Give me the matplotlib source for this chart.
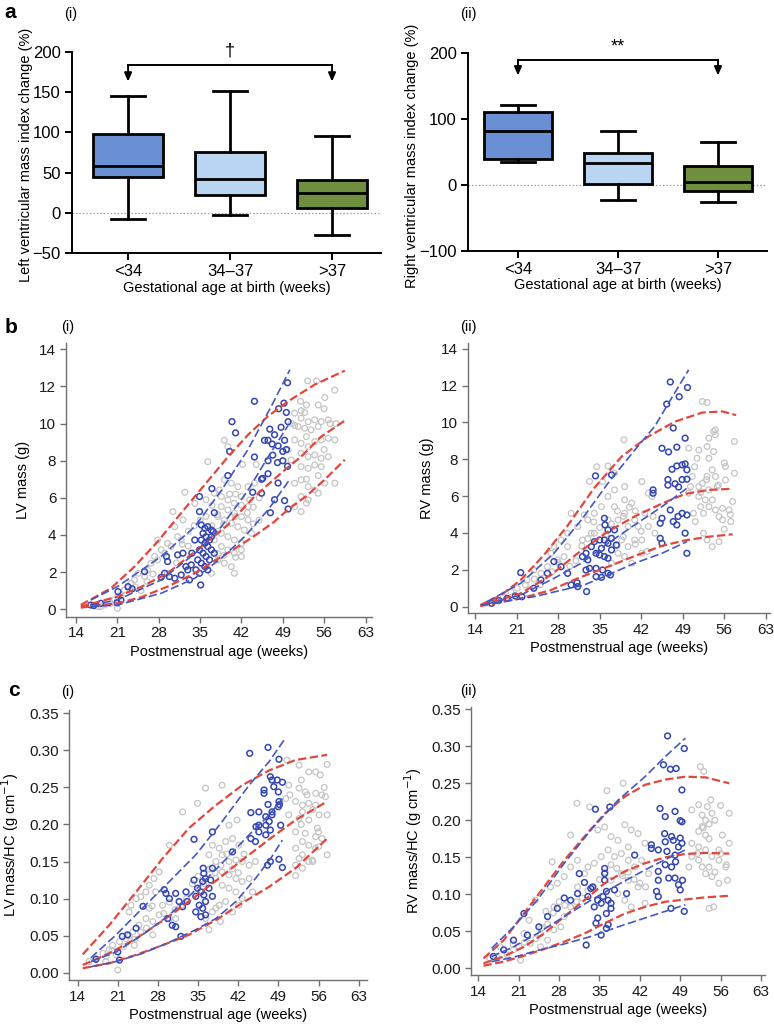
import matplotlib
matplotlib.use("Agg")
import matplotlib.pyplot as plt

plt.rcParams['font.family'] = ['Liberation Sans', 'DejaVu Sans']
plt.rcParams['lines.scale_dashes'] = False

# ---------------- Panel a data ----------------
groups = ['<34', '34\u201337', '>37']
box_colors = ['#6a8fd2', '#b9d5f1', '#6f8f3f']
lv_whislo = [-7, -2, -27]
lv_q1 = [44, 22, 6]
lv_med = [58, 42, 25]
lv_q3 = [98, 75, 41]
lv_whishi = [145, 151, 95]
rv_whislo = [35, -23, -26]
rv_q1 = [39, 1, -10]
rv_med = [82, 33, 5]
rv_q3 = [111, 48, 28]
rv_whishi = [121, 82, 65]

# ---------------- Panel b(i) LV mass ----------------
b1_gray_x = [52.1, 52.7, 53.2, 54.7, 56.1, 57.8, 51.0, 52.1, 53.3, 54.4, 55.5, 56.7, 51.6, 52.7, 53.8, 55.0,
             51.0, 52.1, 53.3, 54.4, 55.5, 56.7, 57.8, 52.1, 53.3, 54.4, 55.5, 56.7, 52.1, 53.3, 54.4, 55.5,
             51.0, 52.1, 53.3, 54.4, 56.1, 57.8, 52.1, 53.3, 55.0, 52.1, 53.0, 51.0, 50.4, 49.9,
             36.3, 39.1, 39.7, 42.2, 44.5, 32.4, 30.4, 34.1,
             37.4, 38.6, 39.7, 40.8, 42.0, 43.1, 38.6, 39.7, 40.8, 42.0, 43.1, 38.0, 39.1, 40.3, 41.4, 42.5,
             43.7, 38.6, 39.7, 40.8, 42.0, 37.4, 38.6, 39.7, 40.8, 42.0, 38.0, 39.1, 40.3, 36.9, 40.8, 43.4,
             44.2, 43.1, 41.4, 40.3, 39.1, 38.3,
             31.2, 31.8, 29.5, 30.1, 28.4, 29.0, 27.3, 27.8, 26.7, 26.1, 25.6, 24.5, 23.9, 23.3, 22.8, 22.2,
             21.6, 21.1, 20.5, 19.9, 19.4, 18.8, 18.2, 17.7, 27.8, 30.7, 32.1, 29.5, 21.0,
             37, 38, 39, 41, 42, 43, 44, 45, 36, 35, 34, 33, 33, 38, 39, 41, 42, 44, 45, 40, 41, 37, 36, 38,
             26, 24, 25, 27, 31, 32, 53, 55, 56, 57, 58, 53, 51, 55, 53, 52, 50.5, 56]
b1_gray_y = [10.7, 10.6, 12.3, 12.3, 11.4, 11.8, 10.56, 10.29, 10.1, 10.2, 10.1, 10.2, 9.84, 9.75, 9.66, 9.84,
             9.12, 8.94, 8.76, 9.03, 9.12, 9.21, 9.12, 8.4, 8.22, 8.31, 8.13, 8.22, 7.68, 7.59, 7.77, 7.68,
             6.79, 6.97, 6.6, 6.43, 6.79, 6.79, 6.07, 5.89, 6.25, 5.26, 5.71, 5.53, 8.04, 8.58,
             7.95, 9.1, 8.76, 7.8, 7.8, 6.3, 5.26, 5.7,
             6.25, 6.07, 5.89, 5.71, 6.07, 5.53, 5.53, 5.35, 5.17, 4.99, 4.81, 4.99, 4.81, 4.63, 4.45, 4.27,
             4.09, 4.09, 3.91, 3.73, 3.55, 3.73, 3.38, 3.2, 3.02, 2.84, 2.66, 2.48, 2.3, 1.94, 1.94, 5.89,
             6.79, 6.6, 6.6, 6.79, 6.97, 6.43,
             3.91, 3.73, 3.55, 3.38, 3.2, 3.02, 2.84, 2.66, 2.48, 2.12, 1.76, 1.94, 1.58, 1.4, 1.13, 1.04,
             0.77, 0.68, 0.5, 0.32, 0.41, 0.23, 0.14, 0.14, 3.73, 4.45, 4.81, 1.94, 0.05,
             4.5, 4.2, 4.6, 5.0, 5.6, 5.2, 5.5, 6.0, 5.0, 4.8, 4.5, 4.2, 3.4, 3.0, 2.9, 2.8, 3.2, 4.6, 4.8, 6.2, 6.2, 5.6, 5.9, 5.1,
             1.5, 1.2, 1.0, 1.9, 2.5, 3.5, 7.0, 7.2, 8.6, 10.0, 10.0, 9.3, 9.9, 11.0, 11.0, 11.2, 10.0, 10.8]
b1_blue_x = [49.8, 44.2, 40.4, 41.0, 48.3, 49.2, 49.6, 49.9, 46.8, 47.6, 46.5, 45.9, 48.7, 47.2, 48.2, 49.3,
             49.6, 49.0, 44.2, 46.5, 47.3, 48.1, 49.0, 49.8, 45.4, 45.6, 46.5, 48.2, 47.6, 49.3, 46.9, 49.9,
             43.9, 45.4, 40.0, 39.7, 37.0, 34.9, 37.4, 34.9,
             35.2, 35.8, 36.3, 36.9, 35.5, 36.0, 36.6, 37.2, 35.2, 35.8, 36.3, 36.9, 34.9, 35.5, 36.0, 36.6,
             34.6, 35.2, 35.8, 36.3, 34.3, 34.9, 37.4, 36.9, 34.1, 33.6,
             29.3, 29.5, 31.2, 32.1, 32.6, 32.9, 31.8, 30.7, 29.8, 29.0, 28.4, 33.5, 33.2, 35.1,
             25.6, 22.8, 21.1, 18.2, 16.5, 21.6, 17.0, 21.0, 23.5]
b1_blue_y = [12.2, 11.2, 10.1, 9.5, 10.8, 11.1, 10.6, 10.1, 9.7, 9.4, 9.1, 9.1, 9.8, 8.9, 8.8, 9.1,
             8.6, 8.5, 8.2, 8.0, 8.3, 7.9, 8.0, 7.7, 7.0, 7.05, 7.3, 6.8, 5.9, 5.85, 5.2, 5.4,
             6.3, 6.25, 8.5, 7.2, 6.5, 6.07, 5.2, 5.26,
             4.54, 4.36, 4.45, 4.27, 4.09, 3.91, 3.73, 4.18, 3.73, 3.55, 3.38, 3.2, 3.2, 3.02, 2.84, 2.66,
             2.66, 2.48, 2.3, 2.12, 2.12, 1.94, 3.02, 3.91, 3.73, 3.02,
             2.84, 2.57, 2.93, 3.02, 2.3, 2.12, 1.85, 1.67, 1.76, 1.94, 1.72, 2.39, 1.58, 1.31,
             2.03, 1.22, 0.95, 0.32, 0.23, 0.5, 0.2, 0.35, 1.1]
b1_rhi_x = [14.8, 19.9, 23.9, 27.8, 34.1, 39.7, 43.1, 46.5, 49.9, 54.4, 59.5]
b1_rhi_y = [0.23, 1.13, 2.3, 3.64, 6.07, 8.2, 9.39, 10.4, 11.2, 12.1, 12.85]
b1_rmid_x = [14.8, 21.0, 25.0, 29.5, 35.2, 39.7, 44.2, 48.7, 52.1, 55.5, 59.5]
b1_rmid_y = [0.14, 0.68, 1.2, 1.94, 3.38, 4.54, 6.07, 7.33, 8.22, 9.3, 10.16]
b1_rlo_x = [14.8, 21.0, 25.0, 29.5, 34.1, 37.4, 40.8, 44.2, 47.5, 50.0, 53.0, 56.0, 59.5]
b1_rlo_y = [0.09, 0.32, 0.65, 1.22, 1.94, 2.6, 3.25, 3.95, 4.7, 5.4, 6.1, 6.95, 8.05]
b1_bhi_x = [16.5, 21.0, 28.4, 34.1, 38.6, 43.1, 47.0, 50.2]
b1_bhi_y = [0.5, 1.22, 2.84, 4.45, 6.4, 8.6, 10.9, 12.9]
b1_bmid_x = [16.5, 21.0, 28.4, 34.1, 38.6, 43.1, 46.5, 49.9]
b1_bmid_y = [0.23, 0.5, 1.58, 3.0, 4.45, 6.4, 8.2, 9.9]
b1_blo_x = [16.5, 21.0, 28.4, 34.1, 38.6, 42.5, 46.5, 50.2]
b1_blo_y = [0.14, 0.23, 0.86, 1.67, 2.75, 3.9, 5.35, 7.0]

# ---------------- Panel b(ii) RV mass ----------------
b2_gray_x = [52.3, 53.1, 54.2, 54.5, 53.4, 53.1, 51.7, 54.2, 50.0, 51.4, 53.4, 56.2, 57.7, 57.7, 53.96, 54.5,
             53.1, 52.3, 51.7, 53.4, 54.8, 56.2, 51.7, 52.8, 53.4, 54.5, 55.7, 56.8, 52.0, 52.5, 55.1, 57.4,
             57.1, 51.1, 52.5, 53.1, 53.96, 55.1, 55.7, 50.8, 50.3, 50.6, 50.0,
             39.1, 36.4, 35.5, 37.5, 39.2, 40.4, 42.1, 43.2, 40.9, 41.5, 39.2, 37.5, 36.4, 35.3, 34.1, 33.0,
             32.4, 31.3, 30.2, 32.1, 33.6, 38.1, 39.8, 38.7, 39.8, 40.9, 42.1, 43.2, 44.3, 38.1, 39.2, 40.4,
             37.0, 34.1, 36.4, 29.6, 28.5, 27.3, 26.8, 27.9, 29.0, 26.2, 25.1, 23.9, 22.8, 22.5, 21.1, 20.0,
             18.8, 17.7, 29.6, 42.1, 42.6, 43.8, 39.2, 37.5, 33.3, 34.5,
             38, 39, 40, 41, 37, 36, 35, 34, 33, 32, 41, 42, 43, 44, 39, 38, 31, 30, 28, 27, 24, 25,
             53, 55, 56, 54, 52, 56, 57, 51, 54.5]
b2_gray_y = [11.14, 11.09, 9.51, 9.33, 9.15, 8.7, 8.5, 8.42, 8.6, 8.06, 8.06, 7.61, 7.25, 8.97, 7.43, 7.07,
             7.07, 6.7, 6.52, 6.34, 6.52, 6.88, 5.98, 5.8, 5.43, 5.25, 5.34, 5.25, 5.43, 5.07, 4.89, 5.71,
             4.62, 4.62, 3.99, 3.62, 3.26, 3.53, 4.71, 5.07, 6.52, 7.07, 6.16,
             9.06, 7.64, 6.79, 6.34, 5.8, 5.62, 6.79, 6.16, 4.71, 4.35, 5.07, 5.43, 5.98, 5.43, 5.07, 4.71,
             4.98, 4.35, 5.07, 3.62, 3.99, 4.71, 4.35, 3.62, 3.26, 3.62, 2.9, 4.35, 3.99, 2.9, 2.72, 2.36,
             2.36, 3.99, 4.71, 3.99, 3.62, 3.26, 2.9, 2.54, 2.72, 2.17, 1.81, 1.99, 1.45, 1.18, 1.0, 0.82,
             0.54, 0.36, 3.26, 3.62, 5.07, 5.98, 6.52, 7.25, 6.8, 7.6,
             5.2, 4.9, 5.4, 5.2, 4.5, 3.9, 4.3, 4.6, 3.7, 3.3, 3.4, 4.1, 3.0, 4.9, 3.8, 3.3, 2.5, 2.2, 2.4, 1.9, 1.5, 1.2,
             6.9, 6.6, 7.8, 5.8, 6.2, 4.2, 5.0, 7.6, 9.6]
b2_blue_x = [46.9, 46.3, 48.4, 49.8, 47.4, 45.5, 46.6, 48.0, 49.4, 47.2, 48.0, 48.9, 49.4, 49.7, 46.5, 46.5,
             47.7, 48.3, 48.9, 49.7, 44.0, 44.0, 45.5, 47.4, 48.2, 48.9, 49.7, 46.9, 45.2, 48.0, 49.4, 45.2,
             45.5, 49.7, 34.3, 37.0,
             35.8, 35.9, 36.4, 37.5, 35.0, 35.8, 36.4, 37.0, 35.3, 37.0, 37.8, 34.4, 35.0, 35.8, 36.4, 34.1,
             33.6, 32.7, 32.1, 33.0,
             33.3, 34.4, 35.5, 36.4, 35.3, 36.8, 34.4, 31.2, 30.2, 31.3, 32.7, 29.6, 28.5, 27.3, 26.2, 25.1,
             23.9, 21.7, 21.9, 20.8, 19.4, 18.0, 16.8, 32.8]
b2_blue_y = [12.2, 11.0, 11.4, 11.9, 9.7, 8.6, 8.4, 8.66, 9.15, 7.46, 7.64, 7.7, 7.75, 7.43, 6.9, 6.6,
             6.67, 6.5, 6.9, 6.92, 6.34, 6.16, 4.8, 4.62, 4.9, 5.07, 4.98, 5.25, 4.53, 4.44, 3.99, 3.71,
             3.44, 2.9, 7.1, 7.16,
             4.8, 4.44, 4.17, 4.17, 3.62, 3.62, 3.44, 3.71, 3.17, 3.08, 3.35, 2.9, 2.81, 2.72, 2.63, 3.53,
             3.26, 2.9, 2.72, 2.54,
             2.08, 2.08, 1.99, 1.81, 1.59, 1.72, 1.63, 1.3, 1.18, 1.09, 1.99, 1.81, 2.17, 2.45, 1.81, 1.45,
             1.0, 1.85, 0.54, 0.58, 0.45, 0.33, 0.18, 0.82]
b2_rhi_x = [14.9, 18.3, 21.7, 25.6, 29.6, 34.1, 38.7, 43.2, 47.7, 52.3, 55.7, 58.0]
b2_rhi_y = [0.09, 0.6, 1.45, 2.8, 4.4, 6.45, 8.15, 9.24, 10.05, 10.54, 10.6, 10.4]
b2_rmid_x = [14.9, 21.7, 26.8, 31.3, 36.4, 40.9, 45.5, 49.4, 53.4, 57.4]
b2_rmid_y = [0.05, 0.72, 1.72, 2.9, 4.08, 4.9, 5.6, 6.12, 6.34, 6.4]
b2_rlo_x = [14.9, 21.7, 26.8, 31.3, 36.4, 40.9, 45.5, 49.4, 53.4, 57.4]
b2_rlo_y = [0.03, 0.45, 0.9, 1.54, 2.17, 2.75, 3.3, 3.6, 3.8, 3.93]
b2_bhi_x = [16.0, 21.7, 27.3, 31.9, 36.4, 40.9, 44.3, 46.6, 50.0]
b2_bhi_y = [0.27, 1.27, 2.9, 4.7, 6.7, 8.5, 9.8, 11.05, 12.86]
b2_bmid_x = [16.0, 21.7, 27.3, 31.9, 36.4, 40.9, 45.5, 49.7]
b2_bmid_y = [0.14, 0.63, 1.54, 2.36, 3.44, 4.44, 5.43, 6.43]
b2_blo_x = [15.0, 23.9, 32.4, 36.4, 40.9, 45.5, 49.7]
b2_blo_y = [0.09, 0.54, 1.18, 1.72, 2.36, 2.9, 3.53]

# ---------------- Panel c(i) LV mass / HC ----------------
c1_gray_x = [50.5, 52.6, 54.3, 55.5, 56.3, 57.5, 50.8, 52.6, 53.7, 55.5, 56.6, 57.2, 50.3, 52.0, 53.2, 54.3,
             55.5, 56.1, 53.2, 50.8, 52.6, 54.3, 55.8, 57.5, 52.0, 53.7, 55.5, 53.2, 54.3, 52.0, 55.5, 56.6,
             52.6, 54.3, 54.9, 52.0, 53.2, 52.0, 57.5, 53.2,
             36.3, 39.2, 34.9, 32.3, 41.8, 40.4, 37.5, 38.7, 39.8, 41.0, 42.1, 39.2, 40.4, 41.6, 38.1, 36.9,
             42.7, 43.9, 45.0, 39.2, 40.4, 41.6, 42.7, 38.1, 39.2, 40.4, 41.6, 42.7, 39.8, 38.7, 37.5, 41.0,
             42.1, 43.9, 44.5, 38.9, 36.3, 36.9, 38.1,
             30.0, 28.2, 27.3, 26.5, 25.9, 25.0, 24.2, 23.3, 23.0, 27.6, 28.8, 28.2, 27.1, 25.9, 24.7, 23.6,
             22.4, 21.3, 20.1, 19.5, 18.4, 17.2, 16.0, 18.9, 20.7, 26.5, 30.0, 31.1, 27.1, 23.9, 21.0,
             37, 38, 39, 40, 41, 42, 43, 36, 35, 34, 33, 32, 31, 30, 29, 27, 26, 25, 24, 23, 22, 20, 19,
             53, 55, 56, 54, 53, 57, 55, 51, 56]
c1_gray_y = [0.287, 0.28, 0.271, 0.271, 0.267, 0.281, 0.253, 0.249, 0.244, 0.242, 0.24, 0.2375, 0.235, 0.231, 0.226, 0.2285,
             0.226, 0.213, 0.217, 0.213, 0.208, 0.206, 0.195, 0.213, 0.19, 0.188, 0.1835, 0.177, 0.172, 0.168, 0.168, 0.181,
             0.154, 0.15, 0.152, 0.145, 0.141, 0.131, 0.159, 0.159,
             0.249, 0.253, 0.2285, 0.217, 0.206, 0.199, 0.172, 0.168, 0.177, 0.181, 0.172, 0.159, 0.15, 0.152, 0.15, 0.159,
             0.15, 0.145, 0.15, 0.136, 0.132, 0.127, 0.123, 0.127, 0.118, 0.114, 0.109, 0.1, 0.096, 0.091, 0.082, 0.082,
             0.091, 0.127, 0.109, 0.069, 0.073, 0.058, 0.087,
             0.172, 0.136, 0.127, 0.118, 0.109, 0.1026, 0.1, 0.091, 0.082, 0.109, 0.091, 0.078, 0.069, 0.073, 0.064, 0.055,
             0.046, 0.042, 0.037, 0.031, 0.026, 0.019, 0.015, 0.015, 0.024, 0.087, 0.073, 0.073, 0.051, 0.037, 0.0036,
             0.14, 0.135, 0.145, 0.16, 0.14, 0.135, 0.16, 0.12, 0.13, 0.12, 0.1, 0.09, 0.085, 0.095, 0.08, 0.09,
             0.06, 0.055, 0.045, 0.05, 0.035, 0.03, 0.022,
             0.2, 0.22, 0.19, 0.24, 0.26, 0.25, 0.15, 0.24, 0.17]
c1_blue_x = [44.0, 47.2, 49.1, 47.6, 47.9, 48.8, 49.7, 48.2, 49.0, 46.5, 46.5, 49.1, 49.2, 49.0, 47.2,
             44.2, 45.6, 46.8, 47.9, 47.4, 49.4, 46.8, 45.6, 47.9, 45.1, 45.6, 44.2, 45.0, 46.8, 47.6,
             47.1, 47.6, 49.7, 49.1, 34.3, 41.0, 37.5,
             35.9, 36.0, 36.3, 37.5, 37.2, 35.8, 34.3, 34.9, 35.5, 36.0, 36.9, 37.5, 34.6, 36.3, 35.2, 35.8,
             34.6, 35.5, 36.3, 32.9, 33.1, 32.3, 31.7, 31.1, 30.0, 29.4, 29.1, 29.7, 30.5, 31.1, 32.0, 25.4,
             24.2, 22.7, 21.8, 21.0, 21.3, 17.2]
c1_blue_y = [0.296, 0.304, 0.288, 0.2645, 0.26, 0.26, 0.257, 0.251, 0.244, 0.2465, 0.242, 0.231, 0.227, 0.224, 0.227,
             0.216, 0.217, 0.2105, 0.213, 0.204, 0.199, 0.199, 0.199, 0.217, 0.197, 0.19, 0.181, 0.177, 0.186, 0.1925,
             0.145, 0.15, 0.142, 0.153, 0.18, 0.163, 0.19,
             0.141, 0.134, 0.127, 0.141, 0.125, 0.123, 0.125, 0.114, 0.109, 0.105, 0.114, 0.103, 0.103, 0.096, 0.091, 0.087,
             0.082, 0.0756, 0.078, 0.109, 0.096, 0.089, 0.096, 0.107, 0.1, 0.107, 0.112, 0.073, 0.064, 0.062, 0.049, 0.0895,
             0.06, 0.051, 0.049, 0.028, 0.017, 0.018]
c1_r_x = [14.9, 19.5, 24.2, 28.8, 33.4, 38.1, 42.7, 47.4, 52.0, 57.5]
c1_rhi_y = [0.0247, 0.064, 0.109, 0.154, 0.195, 0.226, 0.253, 0.273, 0.287, 0.294]
c1_rmid_y = [0.0103, 0.026, 0.046, 0.070, 0.096, 0.124, 0.152, 0.180, 0.206, 0.231]
c1_rlo_y = [0.006, 0.0126, 0.024, 0.037, 0.051, 0.071, 0.094, 0.116, 0.141, 0.181]
c1_bhi_x = [16.3, 20.7, 25.3, 30.0, 34.6, 39.2, 43.9, 47.4, 50.0]
c1_bhi_y = [0.020, 0.051, 0.087, 0.123, 0.159, 0.204, 0.253, 0.285, 0.314]
c1_bmid_x = [16.3, 20.7, 25.3, 30.0, 34.6, 39.2, 43.9, 47.4, 49.7]
c1_bmid_y = [0.015, 0.028, 0.051, 0.078, 0.112, 0.148, 0.186, 0.213, 0.235]
c1_blo_x = [16.3, 20.7, 25.3, 30.0, 34.6, 38.1, 41.6, 45.0, 47.9, 49.7]
c1_blo_y = [0.008, 0.015, 0.026, 0.041, 0.058, 0.073, 0.096, 0.127, 0.157, 0.179]

# ---------------- Panel c(ii) RV mass / HC ----------------
c2_gray_x = [52.5, 53.1, 54.3, 53.7, 52.2, 51.0, 52.8, 54.5, 53.4, 52.8, 52.2, 53.4, 56.3, 57.5, 51.0, 52.2,
             53.4, 54.5, 55.7, 57.5, 51.0, 52.2, 52.8, 54.0, 55.7, 56.9, 57.2, 55.7, 53.4, 54.5, 50.5, 54.0, 54.8,
             39.1, 36.3, 31.1, 33.3, 30.0, 34.7, 35.9, 37.0, 38.2, 39.4, 40.5, 41.7, 42.9, 40.0, 38.8, 37.6,
             36.5, 35.3, 34.1, 33.0, 32.4, 31.2, 30.0, 28.9, 27.7, 26.5, 26.8, 40.0, 41.1, 42.3, 38.8, 40.0,
             41.7, 43.5, 37.0, 38.2, 39.4, 40.5, 42.9, 31.2, 30.0, 28.9, 27.1, 26.0, 24.8, 23.0, 21.9, 20.1,
             19.0, 17.8, 17.2, 16.0, 21.3, 24.8, 28.3, 25.7, 23.9, 22.8, 27.1,
             36, 37, 38, 39, 40, 41, 42, 43, 35, 34, 33, 32, 31, 29, 28, 27, 26, 25, 24, 22, 21, 20,
             53, 54, 55, 56, 57, 55, 52, 56, 54]
c2_gray_y = [0.2725, 0.266, 0.2275, 0.2185, 0.221, 0.214, 0.207, 0.2095, 0.2, 0.1915, 0.185, 0.18, 0.18, 0.2095, 0.169, 0.164,
             0.16, 0.151, 0.16, 0.169, 0.151, 0.146, 0.137, 0.137, 0.146, 0.137, 0.119, 0.115, 0.128, 0.124, 0.137, 0.081, 0.083,
             0.25, 0.24, 0.223, 0.218, 0.18, 0.187, 0.191, 0.178, 0.173, 0.194, 0.187, 0.182, 0.169, 0.164, 0.155, 0.151,
             0.16, 0.151, 0.142, 0.137, 0.128, 0.146, 0.137, 0.124, 0.115, 0.11, 0.144, 0.146, 0.137, 0.146, 0.128, 0.119,
             0.11, 0.128, 0.119, 0.101, 0.092, 0.083, 0.088, 0.11, 0.083, 0.07, 0.052, 0.038, 0.029, 0.034, 0.047, 0.025,
             0.018, 0.029, 0.016, 0.0135, 0.011, 0.047, 0.056, 0.077, 0.092, 0.065, 0.083,
             0.13, 0.14, 0.135, 0.125, 0.13, 0.12, 0.115, 0.11, 0.12, 0.11, 0.105, 0.095, 0.09, 0.085, 0.09, 0.075,
             0.06, 0.055, 0.04, 0.035, 0.03, 0.033,
             0.19, 0.175, 0.2, 0.155, 0.14, 0.13, 0.155, 0.22, 0.195]
c2_blue_x = [46.8, 49.7, 46.1, 47.3, 48.3, 49.3, 45.5, 46.4, 48.1, 49.0, 49.3, 46.3, 47.5, 47.8, 49.0, 49.3,
             44.0, 44.0, 45.2, 46.4, 46.7, 48.7, 48.1, 46.4, 47.5, 48.2, 45.2, 45.2, 47.0, 48.1, 48.7, 49.0,
             44.9, 45.2, 47.4, 49.7, 49.4, 34.3, 36.8, 41.1,
             31.5, 32.4, 31.2, 33.0, 33.5, 35.9, 35.9, 35.9, 36.2, 35.6, 36.5, 35.3, 34.7, 34.1, 33.8, 37.0,
             37.6, 37.0, 36.2, 34.7, 34.4, 36.5, 36.2, 35.3, 32.7, 30.0, 28.9, 27.7, 26.0, 24.5, 22.5, 21.9,
             20.1, 18.4, 16.6, 39.7]
c2_blue_y = [0.314, 0.297, 0.275, 0.269, 0.27, 0.241, 0.216, 0.205, 0.212, 0.1995, 0.198, 0.182, 0.178, 0.173, 0.176, 0.169,
             0.167, 0.162, 0.16, 0.171, 0.158, 0.164, 0.153, 0.14, 0.137, 0.144, 0.131, 0.119, 0.122, 0.122, 0.113, 0.106,
             0.104, 0.097, 0.081, 0.077, 0.119, 0.215, 0.218, 0.153,
             0.128, 0.116, 0.101, 0.097, 0.108, 0.135, 0.128, 0.119, 0.104, 0.097, 0.092, 0.088, 0.092, 0.083, 0.11, 0.088,
             0.106, 0.081, 0.074, 0.068, 0.061, 0.059, 0.054, 0.045, 0.0315, 0.092, 0.095, 0.081, 0.07, 0.056, 0.045, 0.074,
             0.038, 0.025, 0.016, 0.101]
c2_r_x = [14.9, 18.4, 21.9, 25.4, 28.9, 32.4, 35.9, 39.4, 42.9, 46.4, 49.9, 53.4, 57.5]
c2_rhi_y = [0.0135, 0.038, 0.074, 0.110, 0.146, 0.178, 0.209, 0.232, 0.248, 0.255, 0.259, 0.258, 0.250]
c2_rmid_y = [0.0068, 0.016, 0.029, 0.047, 0.070, 0.092, 0.115, 0.131, 0.142, 0.150, 0.1545, 0.156, 0.155]
c2_rlo_y = [0.0036, 0.009, 0.017, 0.026, 0.036, 0.047, 0.061, 0.074, 0.083, 0.090, 0.093, 0.096, 0.098]
c2_b_x = [16.3, 20.1, 24.2, 28.9, 33.5, 38.2, 42.9, 46.4, 49.9]
c2_bhi_y = [0.027, 0.056, 0.092, 0.142, 0.187, 0.227, 0.259, 0.286, 0.311]
c2_bmid_y = [0.016, 0.029, 0.047, 0.070, 0.092, 0.113, 0.133, 0.147, 0.160]
c2_blo_y = [0.009, 0.015, 0.024, 0.033, 0.043, 0.056, 0.068, 0.077, 0.086]

week_ticks = [14, 21, 28, 35, 42, 49, 56, 63]

# ---------------- Figure ----------------
W, H = 774, 1025
fig = plt.figure(figsize=(W / 100, H / 100), dpi=100)


def axes_px(left, top, right, bottom):
    return fig.add_axes([left / W, 1 - bottom / H, (right - left) / W, (bottom - top) / H])


def box_panel(ax, lo, q1, med, q3, hi, ylim, yticks, ylabel, ybr, ytip, star, ystar):
    stats = [dict(med=med[i], q1=q1[i], q3=q3[i], whislo=lo[i], whishi=hi[i], fliers=[])
             for i in range(3)]
    bp = ax.bxp(stats, positions=[0, 1, 2], widths=0.68, patch_artist=True, showfliers=False,
                capwidths=0.34,
                boxprops=dict(linewidth=2.0, edgecolor='black'),
                medianprops=dict(color='black', linewidth=2.0),
                whiskerprops=dict(color='black', linewidth=2.0),
                capprops=dict(color='black', linewidth=2.0))
    for patch, col in zip(bp['boxes'], box_colors):
        patch.set_facecolor(col)
    ax.axhline(0, color='#9a9a9a', lw=0.9, ls=(0, (1, 1.5)), zorder=0)
    ax.set_ylim(*ylim)
    ax.set_yticks(yticks)
    ax.set_xticks([0, 1, 2])
    ax.set_xticklabels(groups)
    for s in ['top', 'right']:
        ax.spines[s].set_visible(False)
    for s in ['left', 'bottom']:
        ax.spines[s].set_linewidth(1.4)
    ax.tick_params(axis='both', length=5, width=1.4, labelsize=12, pad=3)
    ax.set_ylabel(ylabel, fontsize=10.5)
    ax.set_xlabel('Gestational age at birth (weeks)', fontsize=10.5, labelpad=1)
    ax.plot([0, 2], [ybr, ybr], color='black', lw=1.4, clip_on=False)
    for xx in (0, 2):
        ax.annotate('', xy=(xx, ytip), xytext=(xx, ybr), annotation_clip=False,
                    arrowprops=dict(arrowstyle='-|>,head_length=0.5,head_width=0.22', color='black',
                                    lw=1.4, shrinkA=0, shrinkB=0))
    ax.text(1, ystar, star, ha='center', va='center', fontsize=13)


# a(i)
ax = axes_px(72, 51.7, 381, 253.3)
ax.set_xlim(-0.55, 2.48)
box_panel(ax, lv_whislo, lv_q1, lv_med, lv_q3, lv_whishi, (-50, 200), [-50, 0, 50, 100, 150, 200],
          'Left ventricular mass index change (%)', 183, 163, '\u2020', 201)
ax.yaxis.set_label_coords(-0.125, 0.49)

# a(ii)
ax = axes_px(468, 53, 767, 250.7)
ax.set_xlim(-0.5, 2.49)
box_panel(ax, rv_whislo, rv_q1, rv_med, rv_q3, rv_whishi, (-100, 200), [-100, 0, 100, 200],
          'Right ventricular mass index change (%)', 190, 166, '**', 209)
ax.yaxis.set_label_coords(-0.163, 0.48)


def scatter_panel(ax, gx, gy, bx, by, reds, blues, xlim, ylim, yticks, yfmt, ylabel):
    ax.scatter(gx, gy, s=17, facecolors='none', edgecolors='#c4c4c4', linewidths=0.9, zorder=1,
               clip_on=False)
    ax.scatter(bx, by, s=17, facecolors='none', edgecolors='#3446b0', linewidths=1.1, zorder=2,
               clip_on=False)
    for (x, y) in reds:
        ax.plot(x, y, color='#e2473d', lw=1.6, dashes=(6, 2.5), zorder=3)
    for (x, y) in blues:
        ax.plot(x, y, color='#4558c2', lw=1.2, dashes=(6, 2.5), zorder=4)
    ax.set_xlim(*xlim)
    ax.set_ylim(*ylim)
    ax.set_xticks(week_ticks)
    ax.set_yticks(yticks)
    ax.set_yticklabels([yfmt.format(v) for v in yticks])
    for s in ['top', 'right']:
        ax.spines[s].set_visible(False)
    for s in ['left', 'bottom']:
        ax.spines[s].set_color('#707070')
        ax.spines[s].set_linewidth(1.0)
    ax.tick_params(axis='both', length=4, width=1.0, color='#707070', labelsize=11,
                   labelcolor='#1a1a1a', pad=3)
    ax.set_xlabel('Postmenstrual age (weeks)', fontsize=10.5, labelpad=3)
    ax.set_ylabel(ylabel, fontsize=10.5)


# b(i)
ax = axes_px(66, 343, 372, 616.7)
scatter_panel(ax, b1_gray_x, b1_gray_y, b1_blue_x, b1_blue_y,
              [(b1_rhi_x, b1_rhi_y), (b1_rmid_x, b1_rmid_y), (b1_rlo_x, b1_rlo_y)],
              [(b1_bhi_x, b1_bhi_y), (b1_bmid_x, b1_bmid_y), (b1_blo_x, b1_blo_y)],
              (12.3, 64.1), (-0.4, 14.34), [0, 2, 4, 6, 8, 10, 12, 14], '{:d}', 'LV mass (g)')
ax.yaxis.set_label_coords(-0.118, 0.5)

# b(ii)
ax = axes_px(468, 343.3, 770, 613.3)
scatter_panel(ax, b2_gray_x, b2_gray_y, b2_blue_x, b2_blue_y,
              [(b2_rhi_x, b2_rhi_y), (b2_rmid_x, b2_rmid_y), (b2_rlo_x, b2_rlo_y)],
              [(b2_bhi_x, b2_bhi_y), (b2_bmid_x, b2_bmid_y), (b2_blo_x, b2_blo_y)],
              (12.82, 63.7), (-0.36, 14.3), [0, 2, 4, 6, 8, 10, 12, 14], '{:d}', 'RV mass (g)')
ax.yaxis.set_label_coords(-0.113, 0.5)

# c(i)
ax = axes_px(69, 710, 366.7, 980)
scatter_panel(ax, c1_gray_x, c1_gray_y, c1_blue_x, c1_blue_y,
              [(c1_r_x, c1_rhi_y), (c1_r_x, c1_rmid_y), (c1_r_x, c1_rlo_y)],
              [(c1_bhi_x, c1_bhi_y), (c1_bmid_x, c1_bmid_y), (c1_blo_x, c1_blo_y)],
              (12.5, 64.4), (-0.0099, 0.3545), [0, 0.05, 0.10, 0.15, 0.20, 0.25, 0.30, 0.35], '{:.2f}',
              'LV mass/HC (g cm$^{-1}$)')
ax.yaxis.set_label_coords(-0.16, 0.5)

# c(ii)
ax = axes_px(471, 706.7, 765, 975)
scatter_panel(ax, c2_gray_x, c2_gray_y, c2_blue_x, c2_blue_y,
              [(c2_r_x, c2_rhi_y), (c2_r_x, c2_rmid_y), (c2_r_x, c2_rlo_y)],
              [(c2_b_x, c2_bhi_y), (c2_b_x, c2_bmid_y), (c2_b_x, c2_blo_y)],
              (12.73, 63.7), (-0.009, 0.3535), [0, 0.05, 0.10, 0.15, 0.20, 0.25, 0.30, 0.35], '{:.2f}',
              'RV mass/HC (g cm$^{-1}$)')
ax.yaxis.set_label_coords(-0.16, 0.5)

# Panel letters and sub-labels
def ftext(x, y, s, **kw):
    fig.text(x / W, 1 - y / H, s, ha='left', va='center', **kw)

ftext(4, 13, 'a', fontsize=15, fontweight='bold')
ftext(64, 14, '(i)', fontsize=10.5)
ftext(460, 14, '(ii)', fontsize=10.5)
ftext(5, 327, 'b', fontsize=15, fontweight='bold')
ftext(61, 327, '(i)', fontsize=10.5)
ftext(460, 327, '(ii)', fontsize=10.5)
ftext(8, 691, 'c', fontsize=15, fontweight='bold')
ftext(61, 692, '(i)', fontsize=10.5)
ftext(460, 691, '(ii)', fontsize=10.5)

fig.savefig('out.png', dpi=100)
